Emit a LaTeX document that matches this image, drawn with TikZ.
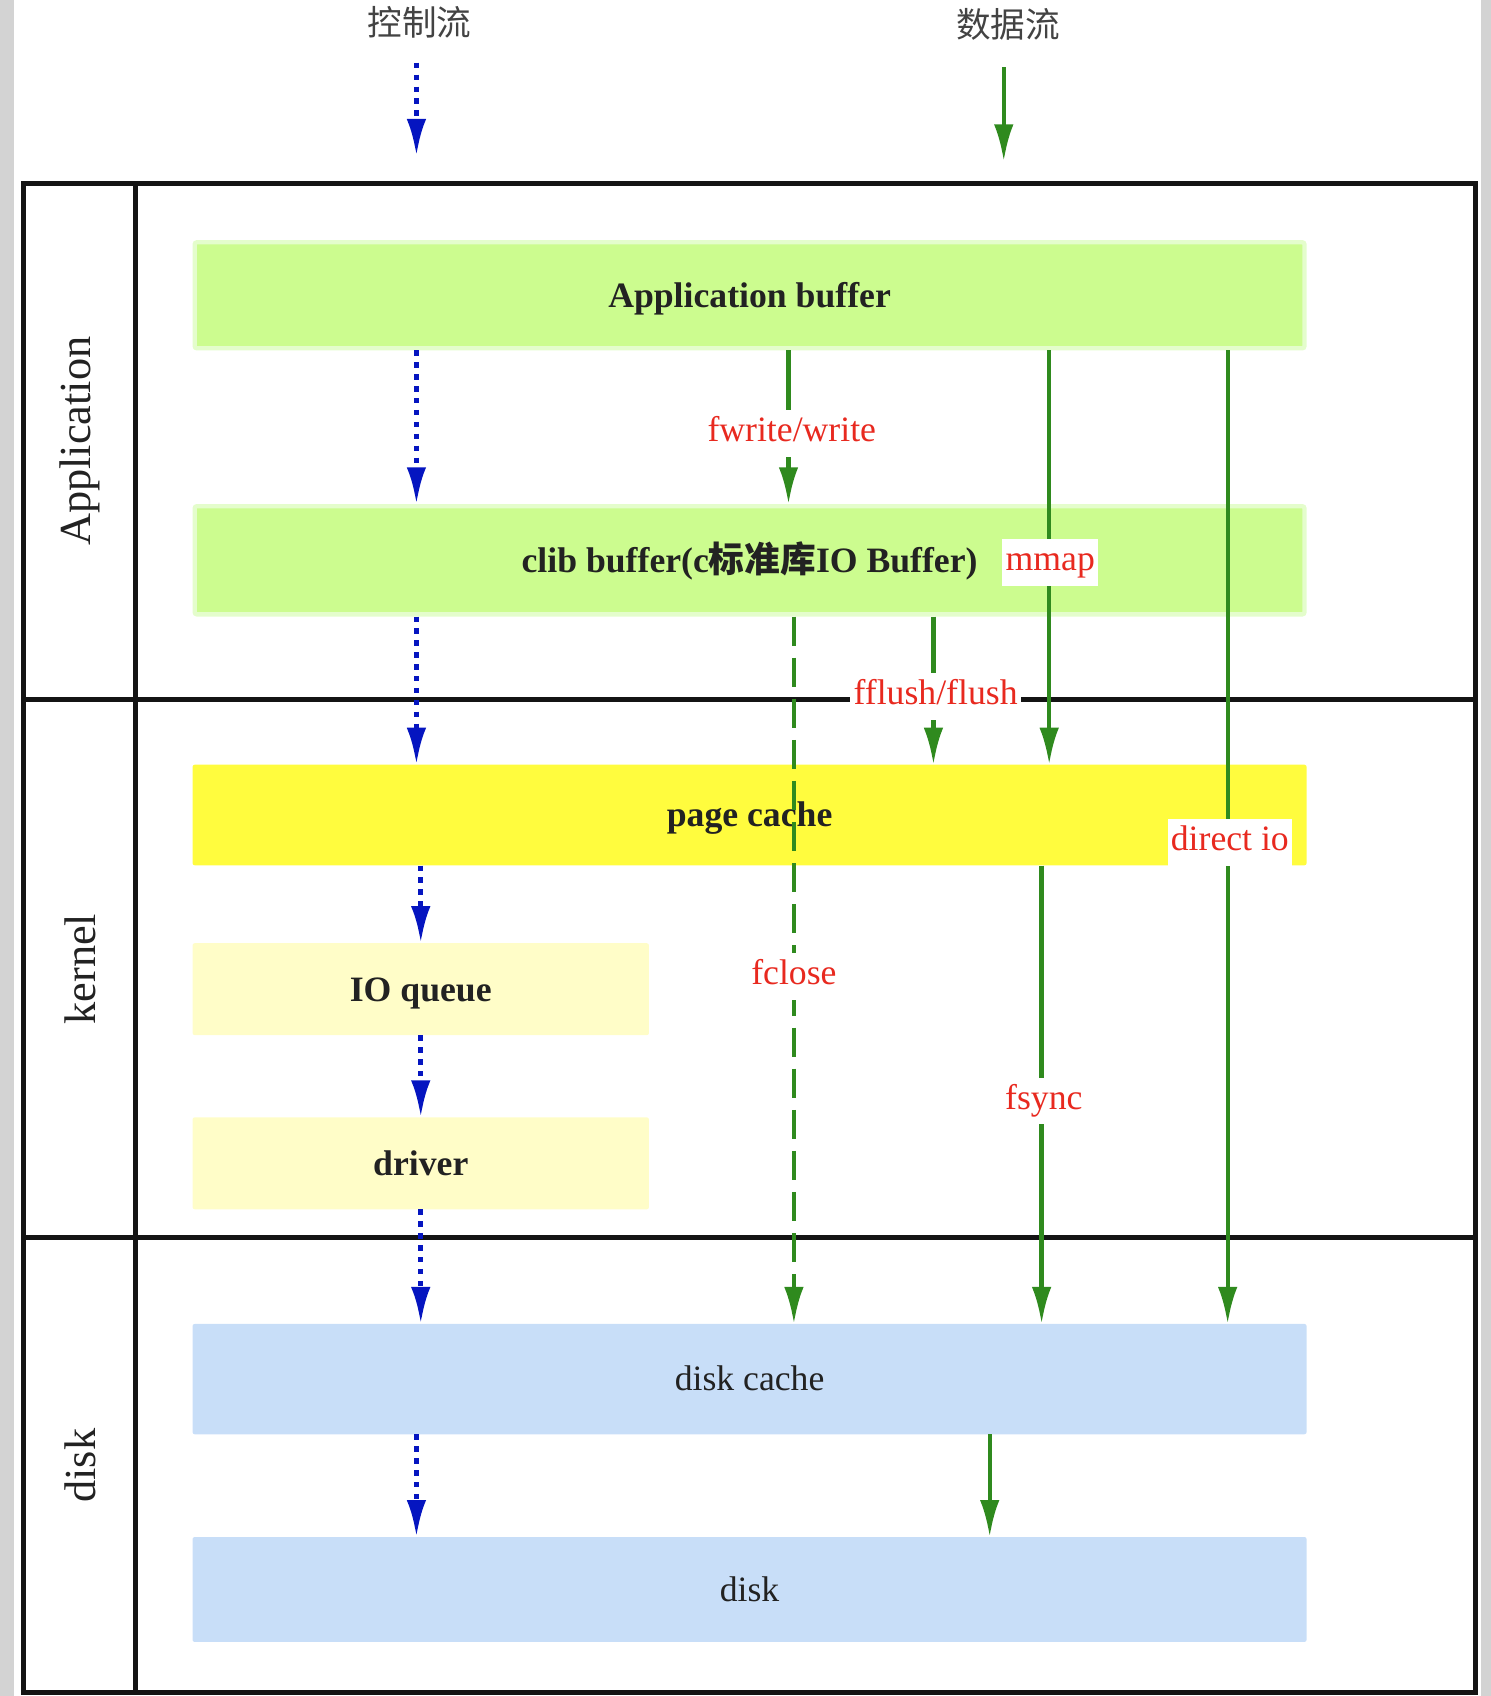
\documentclass[tikz,border=0pt]{standalone}
\usepackage{fontspec}
\setmainfont{Liberation Serif}
\newfontfamily\cjk{Noto Sans CJK SC}
\usetikzlibrary{arrows.meta}
\definecolor{sidegray}{RGB}{211,211,211}
\definecolor{appgreen}{RGB}{204,252,143}
\definecolor{appborder}{RGB}{228,253,204}
\definecolor{pageyellow}{RGB}{255,252,62}
\definecolor{lightyellow}{RGB}{255,253,200}
\definecolor{lightblue}{RGB}{200,222,248}
\definecolor{txt}{RGB}{34,34,34}
\definecolor{lblred}{RGB}{232,41,31}
\definecolor{flowgreen}{RGB}{47,138,30}
\definecolor{flowblue}{RGB}{5,21,192}
\definecolor{lanecol}{RGB}{20,20,20}
\begin{document}
\begin{tikzpicture}[x=1pt,y=-1pt,
  lane/.style={draw=lanecol, line width=4.5pt},
  lanelabel/.style={rotate=90, text=txt, font=\fontsize{41}{46}\selectfont},
  title/.style={text=txt!85!white, font=\cjk\fontsize{32}{38}\selectfont},
  box/.style={rounded corners=2pt, inner sep=0pt, text height=30pt, text depth=8pt, text=txt, font=\fontsize{33}{38}\selectfont\bfseries},
  boxn/.style={rounded corners=2pt, inner sep=0pt, text height=30pt, text depth=8pt, text=txt, font=\fontsize{33}{38}\selectfont},
  ctrl/.style={draw=flowblue, line width=4.5pt, dash pattern=on 5pt off 6pt, -{Latex[length=34pt,width=18pt]}},
  data/.style={draw=flowgreen, line width=4pt, -{Latex[length=34pt,width=18pt]}},
  datadash/.style={data, dash pattern=on 27pt off 11pt},
  lbl/.style={fill=white, text=lblred, inner xsep=3pt, inner ysep=6pt, text height=23pt, text depth=8pt, font=\fontsize{33}{38}\selectfont}
]
\useasboundingbox (0,0) rectangle (1378,1568);
\fill[sidegray] (0,0) rectangle (13,1568);
\fill[sidegray] (1369,0) rectangle (1378,1568);

% lanes
\draw[lane] (22,170) rectangle (1364,1565);
\draw[lane] (125,170) -- (125,1565);
\draw[lane] (22,647) -- (1364,647);
\draw[lane] (22,1144) -- (1364,1144);
\node[lanelabel] (lApp) at (74,408) {Application};
\node[lanelabel] (lKer) at (74,896) {kernel};
\node[lanelabel] (lDisk) at (74,1355) {disk};

% titles and legend arrows
\node[title] (tCtrl) at (388,21) {控制流};
\node[title] (tData) at (932,23) {数据流};
\coordinate (lc1) at (385,58);
\coordinate (lc2) at (385,144);
\coordinate (ld1) at (928,62);
\coordinate (ld2) at (928,149);
\draw[ctrl] (lc1) -- (lc2);
\draw[data] (ld1) -- (ld2);

% boxes
\node[box, fill=appgreen, draw=appborder, line width=4pt, minimum width=1026pt, minimum height=98pt] (app) at (693,273) {Application buffer};
\node[box, fill=appgreen, draw=appborder, line width=4pt, minimum width=1026pt, minimum height=100pt] (clib) at (693,518) {clib buffer(c{\cjk\bfseries 标准库}IO Buffer)};
\node[box, fill=pageyellow, minimum width=1030pt, minimum height=93pt] (page) at (693,753.5) {page cache};
\node[box, fill=lightyellow, minimum width=422pt, minimum height=85pt] (ioq) at (389,914.5) {IO queue};
\node[box, fill=lightyellow, minimum width=422pt, minimum height=85pt] (drv) at (389,1075.5) {driver};
\node[boxn, fill=lightblue, minimum width=1030pt, minimum height=102pt] (dcache) at (693,1275) {disk cache};
\node[boxn, fill=lightblue, minimum width=1030pt, minimum height=97pt] (disk) at (693,1469.5) {disk};

% x positions
\coordinate (ca) at (385,0);
\coordinate (cb) at (389,0);
\coordinate (dfw) at (729,0);
\coordinate (dfc) at (734,0);
\coordinate (dff) at (863,0);
\coordinate (dmm) at (970,0);
\coordinate (dfs) at (963,0);
\coordinate (ddi) at (1135,0);
\coordinate (ddk) at (915,0);

% control flow
\draw[ctrl] (app.south -| ca) -- (clib.north -| ca);
\draw[ctrl] (clib.south -| ca) -- (page.north -| ca);
\draw[ctrl] (page.south -| cb) -- (ioq.north -| cb);
\draw[ctrl] (ioq.south -| cb) -- (drv.north -| cb);
\draw[ctrl] (drv.south -| cb) -- (dcache.north -| cb);
\draw[ctrl] (dcache.south -| ca) -- (disk.north -| ca);

% data flow
\draw[data] (app.south -| dfw) -- (clib.north -| dfw);
\draw[data] (app.south -| dmm) -- (page.north -| dmm);
\draw[data] (app.south -| ddi) -- (dcache.north -| ddi);
\draw[data] (clib.south -| dff) -- (page.north -| dff);
\draw[datadash] (clib.south -| dfc) -- (dcache.north -| dfc);
\draw[data] (page.south -| dfs) -- (dcache.north -| dfs);
\draw[data] (dcache.south -| ddk) -- (disk.north -| ddk);

% labels
\node[lbl] (lfw) at (732,401) {fwrite/write};
\node[lbl] (lmm) at (971,520) {mmap};
\node[lbl] (lff) at (865,644) {fflush/flush};
\node[lbl] (ldi) at (1137,779) {direct io};
\node[lbl] (lfc) at (734,903) {fclose};
\node[lbl] (lfs) at (965,1018) {fsync};
\end{tikzpicture}
\end{document}
